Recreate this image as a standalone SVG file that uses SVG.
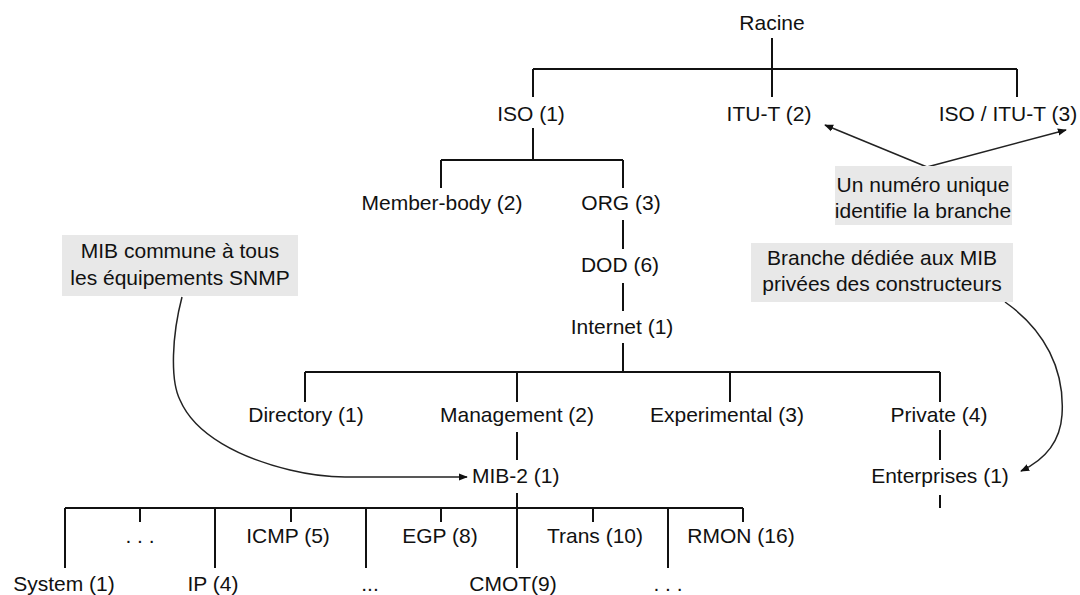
<svg xmlns="http://www.w3.org/2000/svg" width="1080" height="595" viewBox="0 0 1080 595">
<defs>
<style>
text{font-family:"Liberation Sans",Arial,sans-serif;font-size:21px;fill:#111;text-anchor:middle}
.t{stroke:#111;stroke-width:2;fill:none}
.a{stroke:#222;stroke-width:1.5;fill:none}
.box{fill:#e8e8e8}
</style>
<marker id="ah" viewBox="0 0 10 10" refX="9" refY="5" markerWidth="9" markerHeight="9" markerUnits="userSpaceOnUse" orient="auto">
<path d="M0,1 L10,5 L0,9 z" fill="#111"/>
</marker>
</defs>
<rect width="1080" height="595" fill="#fff"/>
<g id="connectors">
<path class="t" d="M772,38 V97 M533,69 H1017 M533,69 V97 M1017,69 V97"/>
<path class="t" d="M533,128 V160 M441,160 H623 M441,160 V188 M623,160 V188"/>
<path class="t" d="M623,220 V249 M623,283 V311 M623,343 V372 M305,372 H940"/>
<path class="t" d="M305,372 V402 M517,372 V402 M730,372 V402 M940,372 V402"/>
<path class="t" d="M517,432 V460 M517,493 V568 M65,508 H743"/>
<path class="t" d="M65,508 V568 M140,508 V522 M215,508 V568 M291,508 V522 M366,508 V568 M441,508 V522 M593,508 V522 M668,508 V568 M743,508 V522"/>
<path class="t" d="M940,430 V460 M940,495 V508"/>
<path class="a" marker-end="url(#ah)" d="M927,167 L825,125"/>
<path class="a" marker-end="url(#ah)" d="M927,167 L1066,130"/>
<path class="a" marker-end="url(#ah)" d="M182,297 C172,335 170,380 180,400 C195,435 240,458 290,470 C315,476 330,477 345,477 L467,477"/>
<path class="a" marker-end="url(#ah)" d="M1005,302 C1045,330 1065,370 1062,415 C1060,445 1040,462 1021,471"/>
</g>
<g id="racine"><text x="772" y="30">Racine</text></g>
<g id="iso"><text x="531" y="121">ISO (1)</text></g>
<g id="itu"><text x="769" y="121">ITU-T (2)</text></g>
<g id="isoitu"><text x="1008" y="121">ISO / ITU-T (3)</text></g>
<g id="member"><text x="442" y="210">Member-body (2)</text></g>
<g id="org"><text x="621" y="210">ORG (3)</text></g>
<g id="dod"><text x="620" y="272">DOD (6)</text></g>
<g id="internet"><text x="622" y="334">Internet (1)</text></g>
<g id="directory"><text x="306" y="422">Directory (1)</text></g>
<g id="management"><text x="517" y="422">Management (2)</text></g>
<g id="experimental"><text x="727" y="422">Experimental (3)</text></g>
<g id="private"><text x="939" y="422">Private (4)</text></g>
<g id="mib2"><text x="472" y="483" style="text-anchor:start">MIB-2 (1)</text></g>
<g id="enterprises"><text x="940" y="483">Enterprises (1)</text></g>
<g id="dots1"><text x="140" y="543">. . .</text></g>
<g id="icmp"><text x="288" y="543">ICMP (5)</text></g>
<g id="egp"><text x="440" y="543">EGP (8)</text></g>
<g id="trans"><text x="595" y="543">Trans (10)</text></g>
<g id="rmon"><text x="741" y="543">RMON (16)</text></g>
<g id="system"><text x="64" y="591">System (1)</text></g>
<g id="ip"><text x="213" y="591">IP (4)</text></g>
<g id="dots2"><text x="370" y="591">...</text></g>
<g id="cmot"><text x="513" y="591">CMOT(9)</text></g>
<g id="dots3"><text x="668" y="591">. . .</text></g>
<g id="note-mib">
<rect class="box" x="62" y="235" width="236" height="61"/>
<text x="180" y="258">MIB commune à tous</text>
<text x="180" y="285">les équipements SNMP</text>
</g>
<g id="note-numero">
<rect class="box" x="835" y="166" width="177" height="59"/>
<text x="923" y="192">Un numéro unique</text>
<text x="923" y="218">identifie la branche</text>
</g>
<g id="note-branche">
<rect class="box" x="751" y="243" width="262" height="59"/>
<text x="882" y="265">Branche dédiée aux MIB</text>
<text x="882" y="291">privées des constructeurs</text>
</g>
</svg>
